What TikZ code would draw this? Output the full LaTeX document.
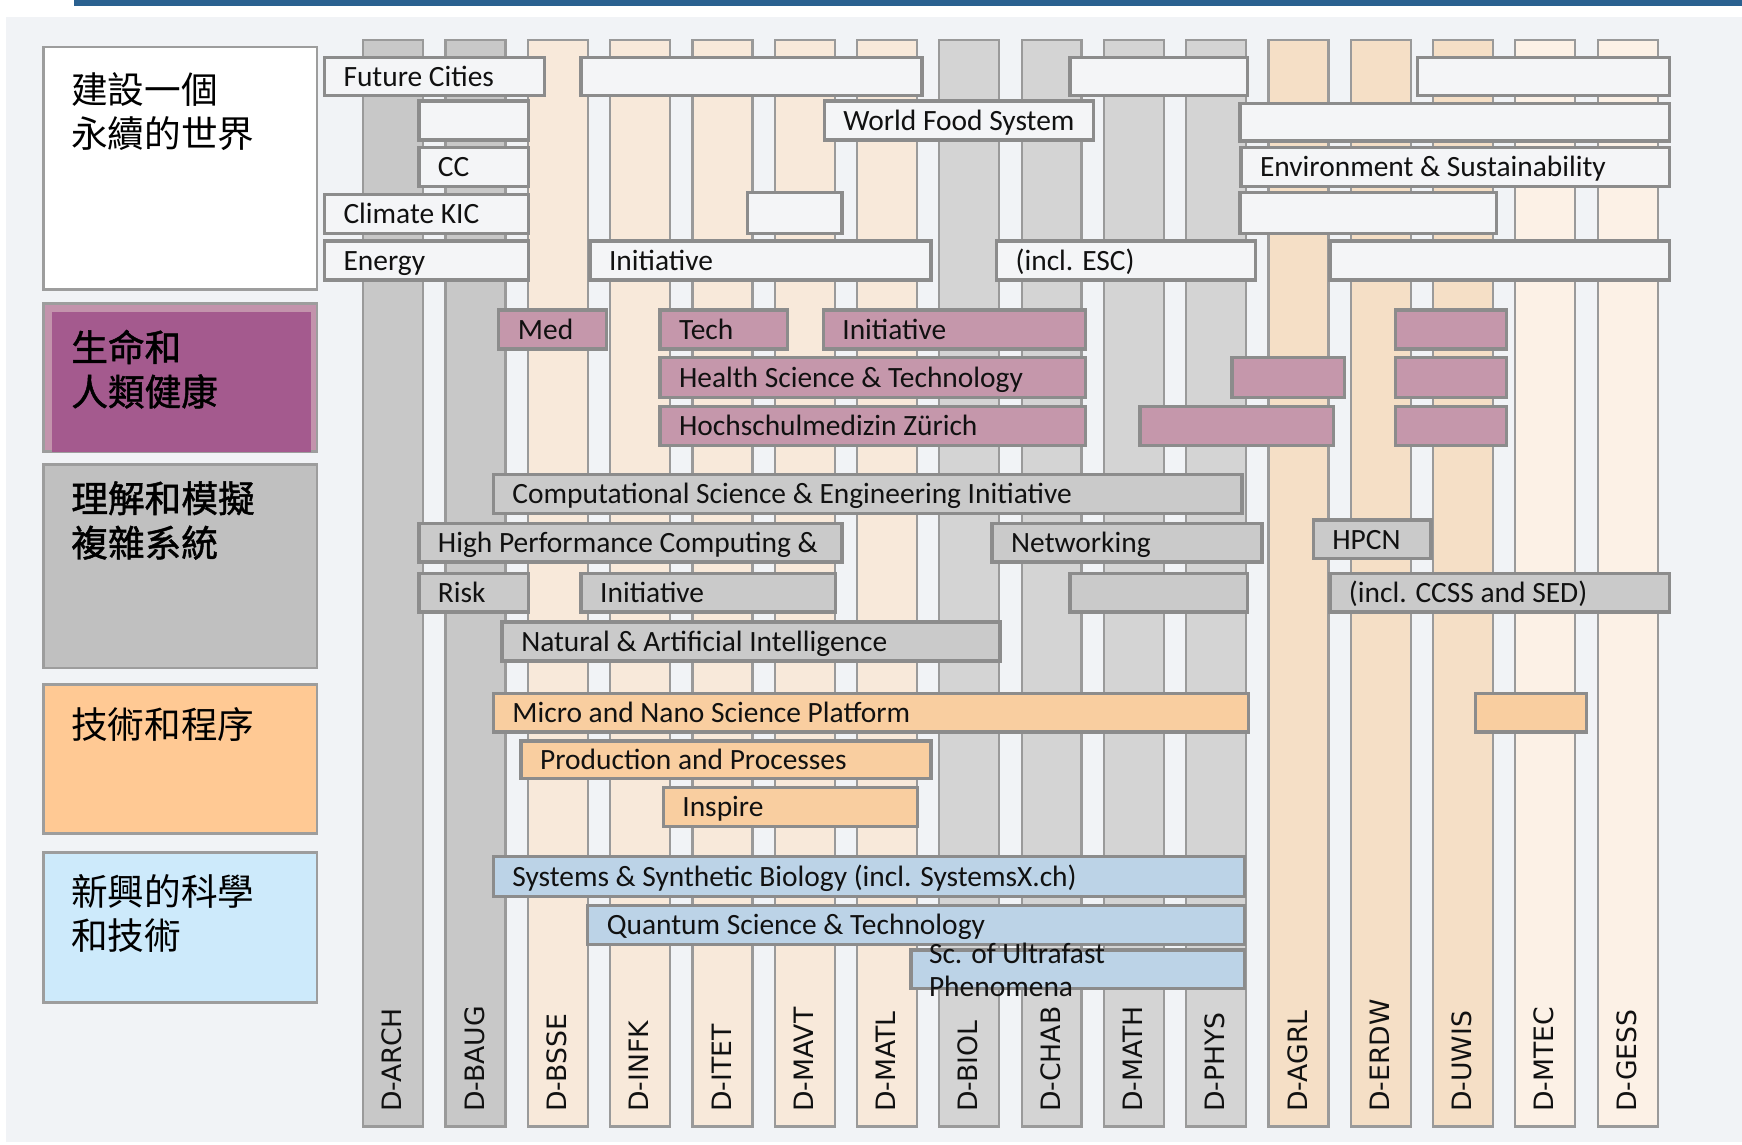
\documentclass[tikz,border=0pt]{standalone}
\usepackage{fontspec}
\setmainfont{Carlito}
\newfontfamily\cjk{Noto Sans CJK TC}
\newfontfamily\cjkb[FakeBold=1.3]{Noto Sans CJK TC}
\newfontfamily\dfont{DejaVu Sans}
\definecolor{topblue}{HTML}{2A6190}
\definecolor{bgc}{HTML}{F1F3F6}
\definecolor{boxline}{HTML}{8C8C8C}
\definecolor{barline}{HTML}{9A9A9A}
\definecolor{lightfill}{HTML}{F4F5F7}
\definecolor{pinkfill}{HTML}{C597AB}
\definecolor{grayfill}{HTML}{CACACA}
\definecolor{orfill}{HTML}{F9CEA0}
\definecolor{blfill}{HTML}{BCD3E7}
\definecolor{bdg}{HTML}{C8C8C8}
\definecolor{bpb}{HTML}{F8E9DA}
\definecolor{blg}{HTML}{D4D4D4}
\definecolor{bpk}{HTML}{F5DFC6}
\definecolor{bpl}{HTML}{FCF1E6}
\definecolor{catpurple}{HTML}{A45A8E}
\definecolor{catpframe}{HTML}{C393AC}
\definecolor{catgray}{HTML}{C0C0C0}
\definecolor{catorange}{HTML}{FFC994}
\definecolor{catblue}{HTML}{CDEAFB}
\definecolor{txt}{HTML}{111111}
\newcommand\pbx[7]{%
  \pgfmathsetmacro\bw{#4-#2}\pgfmathsetmacro\bh{#5-#3}%
  \node[#6, anchor=north west, minimum width=\bw pt, minimum height=\bh pt] (#1) at (#2,#3) {};
  \node[btext, anchor=base west] (#1t) at ([xshift=17pt,yshift=-8.7pt]#1.west) {#7};
}
\begin{document}
\begin{tikzpicture}[x=1pt,y=-1pt,
  lbox/.style={draw=boxline, line width=3pt, fill=lightfill, inner sep=0pt, outer sep=0pt},
  pkbox/.style={lbox, fill=pinkfill},
  gybox/.style={lbox, fill=grayfill},
  orbox/.style={lbox, fill=orfill},
  blbox/.style={lbox, fill=blfill},
  btext/.style={inner sep=0pt, text=txt, font=\fontsize{26.5}{30}\selectfont},
  dbar/.style={draw=barline, line width=2pt, inner sep=0pt, minimum width=54pt, minimum height=978pt},
  dlabel/.style={inner sep=0pt, text=txt, font=\dfont\fontsize{24}{27}\selectfont},
  catbox/.style={draw=boxline!85, line width=2.5pt, inner sep=0pt, minimum width=246pt, anchor=north west},
  cattext/.style={inner sep=0pt, text=black, anchor=base west, font=\cjk\fontsize{33}{40}\selectfont},
  cattextb/.style={cattext, font=\cjkb\fontsize{33}{40}\selectfont}]
\useasboundingbox (0,0) rectangle (1568,1030);
\fill[white] (0,0) rectangle (1568,1030);
\fill[bgc] (5,15) rectangle (1568,1028);
\fill[topblue] (67,0) rectangle (1568,5);

% department bars
\foreach \n/\c [count=\i from 0] in {ARCH/bdg,BAUG/bdg,BSSE/bpb,INFK/bpb,ITET/bpb,MAVT/bpb,MATL/bpb,BIOL/blg,CHAB/blg,MATH/blg,PHYS/blg,AGRL/bpk,ERDW/bpk,UWIS/bpk,MTEC/bpl,GESS/bpl}{
  \pgfmathsetmacro\xl{326+74.07*\i}
  \node[dbar, fill=\c, anchor=north west] (bar\n) at (\xl,35) {};
  \node[dlabel, rotate=90, anchor=west] (lab\n) at (\xl+27,1001) {D-\n};
}

% category boxes
\node[catbox, fill=white, minimum height=218pt] (cat1) at (38,41) {};
\node[cattext] (cat1a) at (64,93) {建設一個};
\node[cattext] (cat1b) at (64,133) {永續的世界};
\node[catbox, fill=catpframe, minimum height=133pt] (cat2) at (38,272) {};
\node[fill=catpurple, inner sep=0pt, minimum width=233pt, minimum height=126pt, anchor=north west] (cat2in) at (47,281) {};
\node[cattextb] (cat2a) at (64,325) {生命和};
\node[cattextb] (cat2b) at (64,365) {人類健康};
\node[catbox, fill=catgray, minimum height=183pt] (cat3) at (38,417) {};
\node[cattextb] (cat3a) at (64,461) {理解和模擬};
\node[cattextb] (cat3b) at (64,501) {複雜系統};
\node[catbox, fill=catorange, minimum height=134pt] (cat4) at (38,615) {};
\node[cattext] (cat4a) at (64,665) {技術和程序};
\node[catbox, fill=catblue, minimum height=135pt] (cat5) at (38,766) {};
\node[cattext] (cat5a) at (64,815) {新興的科學};
\node[cattext] (cat5b) at (64,855) {和技術};

% sustainability rows
\pbx{fc}{292}{52}{490}{86}{lbox}{Future Cities}
\pbx{rib}{523}{52}{830}{86}{lbox}{}
\pbx{ric}{963}{52}{1123}{86}{lbox}{}
\pbx{rid}{1276}{52}{1503}{86}{lbox}{}
\pbx{riia}{377}{91}{476}{126}{lbox}{}
\pbx{wfs}{742}{91}{984}{126}{lbox}{World Food System}
\pbx{riic}{1116}{93}{1503}{127}{lbox}{}
\pbx{cc}{377}{133}{476}{168}{lbox}{CC}
\pbx{env}{1117}{133}{1503}{168}{lbox}{Environment \& Sustainability}
\pbx{ckic}{292}{175}{476}{210}{lbox}{Climate KIC}
\pbx{rivb}{673}{173}{758}{210}{lbox}{}
\pbx{rivc}{1116}{173}{1347}{210}{lbox}{}
\pbx{energy}{292}{217}{476}{252}{lbox}{Energy}
\pbx{initA}{531}{217}{838}{252}{lbox}{Initiative}
\pbx{esc}{897}{217}{1130}{252}{lbox}{(incl. ESC)}
\pbx{rvd}{1197}{217}{1503}{252}{lbox}{}

% health rows
\pbx{med}{449}{279}{546}{314}{pkbox}{Med}
\pbx{tech}{594}{279}{709}{314}{pkbox}{Tech}
\pbx{initB}{741}{279}{977}{314}{pkbox}{Initiative}
\pbx{pid}{1256}{279}{1356}{314}{pkbox}{}
\pbx{hst}{594}{322}{977}{358}{pkbox}{Health Science \& Technology}
\pbx{piib}{1109}{322}{1210}{358}{pkbox}{}
\pbx{piic}{1256}{322}{1356}{358}{pkbox}{}
\pbx{hmz}{594}{366}{977}{401}{pkbox}{Hochschulmedizin Zürich}
\pbx{piiib}{1026}{366}{1200}{401}{pkbox}{}
\pbx{piiic}{1256}{366}{1356}{401}{pkbox}{}

% complex systems rows
\pbx{csei}{444}{427}{1118}{462}{gybox}{Computational Science \& Engineering Initiative}
\pbx{hpc}{377}{471}{758}{506}{gybox}{High Performance Computing \&}
\pbx{netw}{893}{471}{1136}{506}{gybox}{Networking}
\pbx{hpcn}{1182}{468}{1288}{503}{gybox}{HPCN}
\pbx{risk}{377}{516}{476}{551}{gybox}{Risk}
\pbx{initC}{523}{516}{752}{551}{gybox}{Initiative}
\pbx{gc}{963}{516}{1123}{551}{gybox}{}
\pbx{ccss}{1197}{516}{1503}{551}{gybox}{(incl. CCSS and SED)}
\pbx{nai}{452}{560}{900}{595}{gybox}{Natural \& Artificial Intelligence}

% technology rows
\pbx{mns}{444}{624}{1124}{659}{orbox}{Micro and Nano Science Platform}
\pbx{ob}{1328}{624}{1428}{659}{orbox}{}
\pbx{pap}{469}{667}{838}{701}{orbox}{Production and Processes}
\pbx{insp}{597}{709}{826}{744}{orbox}{Inspire}

% emerging science rows
\pbx{ssb}{444}{771}{1120}{807}{blbox}{Systems \& Synthetic Biology (incl. SystemsX.ch)}
\pbx{qst}{529}{815}{1120}{850}{blbox}{Quantum Science \& Technology}
\pbx{suf}{820}{855}{1120}{890}{blbox}{}
\node[btext, anchor=base west] (sufa) at (836,867) {Sc. of Ultrafast};
\node[btext, anchor=base west] (sufb) at (836,897) {Phenomena};
\end{tikzpicture}
\end{document}
